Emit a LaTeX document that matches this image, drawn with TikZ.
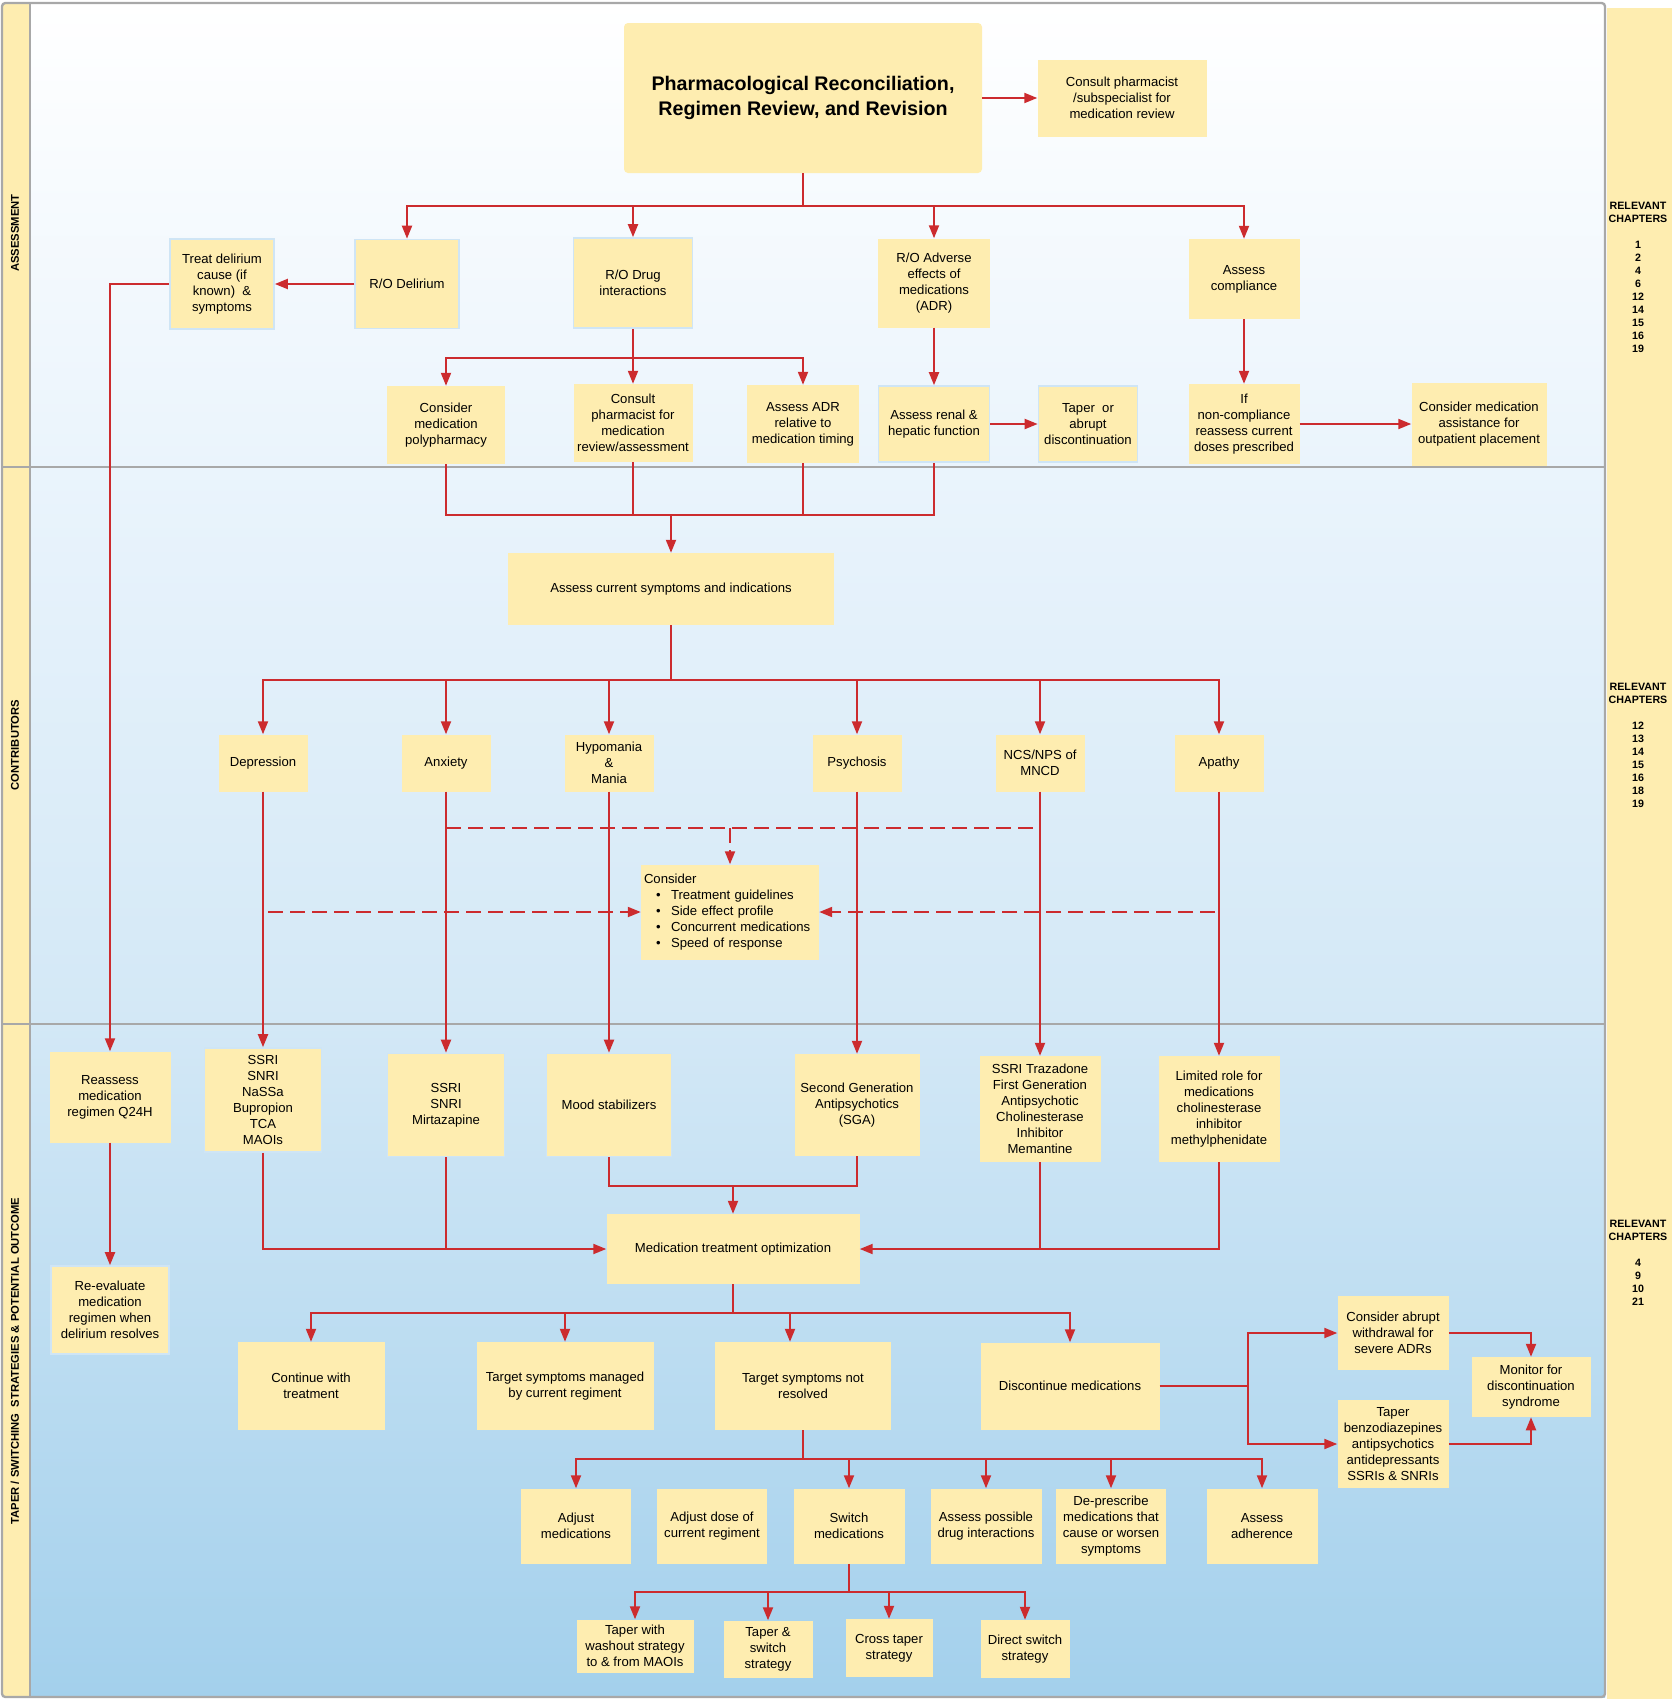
\documentclass[tikz,border=0pt]{standalone}
\usepackage{fontspec}
\setmainfont{Liberation Sans}
\usetikzlibrary{arrows.meta}
\definecolor{boxfill}{HTML}{FEEDB0}
\definecolor{boxline}{HTML}{CFE5F5}
\definecolor{linkred}{HTML}{CC2B2E}
\definecolor{lanegray}{HTML}{A8A8A8}
\definecolor{bgone}{HTML}{EAF4FC}
\definecolor{bgtwo}{HTML}{D3E8F6}
\definecolor{bgthree}{HTML}{A3D0EC}
\newcommand{\consitem}[1]{\makebox[8.1mm][l]{\hspace{3.6mm}\textbullet}#1}
\tikzset{
	box/.style 2 args={fill=boxfill, align=center, inner sep=0pt, font=\fontsize{11.2}{13.7}\selectfont, minimum width=#1*0.3mm, minimum height=#2*0.3mm},
	edgebox/.style 2 args={box={#1}{#2}, draw=boxline, line width=0.5mm},
	wire/.style={draw=linkred, line width=0.6mm},
	link/.style={wire, -{Triangle[length=3.9mm,width=3mm]}},
	dwire/.style={wire, dash pattern=on 4.5mm off 2.1mm},
	dlink/.style={link, dash pattern=on 4.5mm off 2.1mm},
	lane/.style={font=\fontsize{9.6}{11}\selectfont\bfseries, rotate=90},
	chapters/.style={anchor=north, align=center, inner sep=0pt, font=\fontsize{9.1}{11.1}\selectfont\bfseries}
}
\begin{document}
\begin{tikzpicture}[x=0.3mm,y=-0.3mm]
	\useasboundingbox (0,0) rectangle (1672,1699);
	\fill[white] (0,0) rectangle (1672,1699);
	\shade[top color=white, bottom color=bgone] (30,3) rectangle (1605,467);
	\shade[top color=bgone, bottom color=bgtwo] (30,467) rectangle (1605,1024);
	\shade[top color=bgtwo, bottom color=bgthree] (30,1024) rectangle (1605,1697);
	\fill[boxfill] (2,3) rectangle (30,1697);
	\fill[boxfill] (1607,8) rectangle (1672,1699);
	\draw[lanegray, line width=0.7mm, rounded corners=1mm] (2,3) rectangle (1605,1697);
	\draw[lanegray, line width=0.7mm] (30,3) -- (30,1697);
	\draw[lanegray, line width=0.7mm] (2,467) -- (1605,467);
	\draw[lanegray, line width=0.7mm] (2,1024) -- (1605,1024);
	
	\node[lane] (lanea) at (15,233) {ASSESSMENT};
	\node[lane] (laneb) at (15,745) {CONTRIBUTORS};
	\node[lane] (lanec) at (15,1361) {TAPER / SWITCHING~ STRATEGIES \& POTENTIAL OUTCOME};
	\node[chapters] (chapa) at (1638,202) {RELEVANT\\CHAPTERS\\[11.1pt]1\\2\\4\\6\\12\\14\\15\\16\\19};
	\node[chapters] (chapb) at (1638,683) {RELEVANT\\CHAPTERS\\[11.1pt]12\\13\\14\\15\\16\\18\\19};
	\node[chapters] (chapc) at (1638,1220) {RELEVANT\\CHAPTERS\\[11.1pt]4\\9\\10\\21};
	
	\node[box={358}{150}, rounded corners=1.2mm, font=\fontsize{16.8}{20.7}\selectfont\bfseries] (title) at (803,98) {Pharmacological Reconciliation,\\Regimen Review, and Revision};
	\node[box={169}{77}] (consult) at (1122,98) {Consult pharmacist\\/subspecialist for\\medication review};
	\node[edgebox={104}{90}] (treat) at (222,284) {Treat delirium\\cause (if\\known)~ \&\\symptoms};
	\node[edgebox={104}{89}] (rodel) at (407,284) {R/O Delirium};
	\node[edgebox={119}{90}] (rodrug) at (633,283) {R/O Drug\\interactions};
	\node[box={112}{89}] (roadr) at (934,283) {R/O Adverse\\effects of\\medications\\(ADR)};
	\node[box={111}{80}] (compl) at (1244,279) {Assess\\compliance};
	\node[box={118}{78}] (poly) at (446,425) {Consider\\medication\\polypharmacy};
	\node[box={119}{78}] (pharm) at (633,423) {Consult\\pharmacist for\\medication\\review/assessment};
	\node[box={112}{78}] (adrtime) at (803,424) {Assess ADR\\relative to\\medication timing};
	\node[edgebox={111}{76}] (renal) at (934,424) {Assess renal \&\\hepatic function};
	\node[edgebox={99}{76}] (taper) at (1088,424) {Taper~ or\\abrupt\\discontinuation};
	\node[box={111}{80}] (noncomp) at (1244,424) {If\\non-compliance\\reassess current\\doses prescribed};
	\node[box={135}{83}] (assist) at (1479,424) {Consider medication\\assistance for\\outpatient placement};
	
	\node[box={326}{72}] (symptoms) at (671,589) {Assess current symptoms and indications};
	\node[box={89}{57}] (dep) at (263,763) {Depression};
	\node[box={89}{57}] (anx) at (446,763) {Anxiety};
	\node[box={89}{57}] (hypo) at (609,763) {Hypomania\\\&\\Mania};
	\node[box={89}{57}] (psy) at (857,763) {Psychosis};
	\node[box={89}{57}] (ncs) at (1040,763) {NCS/NPS of\\MNCD};
	\node[box={89}{57}] (apathy) at (1219,763) {Apathy};
	\node[box={178}{95}, text width=51.6mm, align=left] (consider) at (730,912) {Consider\\\consitem{Treatment guidelines}\\\consitem{Side effect profile}\\\consitem{Concurrent medications}\\\consitem{Speed of response}};
	
	\node[box={121}{91}] (reassess) at (110,1097) {Reassess\\medication\\regimen Q24H};
	\node[edgebox={117}{104}] (ssri1) at (263,1100) {SSRI\\SNRI\\NaSSa\\Bupropion\\TCA\\MAOIs};
	\node[edgebox={117}{103}] (ssri2) at (446,1105) {SSRI\\SNRI\\Mirtazapine};
	\node[edgebox={125}{103}] (mood) at (609,1105) {Mood stabilizers};
	\node[box={125}{102}] (sga) at (857,1105) {Second Generation\\Antipsychotics\\(SGA)};
	\node[box={121}{106}] (trazo) at (1040,1109) {SSRI Trazadone\\First Generation\\Antipsychotic\\Cholinesterase\\Inhibitor\\Memantine};
	\node[box={121}{106}] (limited) at (1219,1109) {Limited role for\\medications\\cholinesterase\\inhibitor\\methylphenidate};
	\node[edgebox={118}{88}] (reeval) at (110,1310) {Re-evaluate\\medication\\regimen when\\delirium resolves};
	\node[box={253}{70}] (mto) at (733,1249) {Medication treatment optimization};
	\node[box={147}{88}] (cont) at (311,1386) {Continue with\\treatment};
	\node[box={177}{88}] (managed) at (565,1386) {Target symptoms managed\\by current regiment};
	\node[box={176}{88}] (notres) at (803,1386) {Target symptoms not\\resolved};
	\node[box={179}{87}] (discont) at (1070,1386) {Discontinue medications};
	\node[box={111}{74}] (abrupt) at (1393,1333) {Consider abrupt\\withdrawal for\\severe ADRs};
	\node[box={111}{88}] (taperb) at (1393,1444) {Taper\\benzodiazepines\\antipsychotics\\antidepressants\\SSRIs \& SNRIs};
	\node[box={119}{60}] (monitor) at (1531,1387) {Monitor for\\discontinuation\\syndrome};
	\node[box={110}{75}] (adjmed) at (576,1526) {Adjust\\medications};
	\node[box={110}{75}] (adjdose) at (712,1526) {Adjust dose of\\current regiment};
	\node[box={111}{75}] (switch) at (849,1526) {Switch\\medications};
	\node[box={111}{75}] (drugint) at (986,1526) {Assess possible\\drug interactions};
	\node[box={110}{75}] (depresc) at (1111,1526) {De-prescribe\\medications that\\cause or worsen\\symptoms};
	\node[box={111}{75}] (adher) at (1262,1526) {Assess\\adherence};
	\node[box={117}{53}] (washout) at (635,1646) {Taper with\\washout strategy\\to \& from MAOIs};
	\node[box={89}{57}] (tswitch) at (768,1649) {Taper \&\\switch\\strategy};
	\node[box={87}{58}] (cross) at (889,1648) {Cross taper\\strategy};
	\node[box={89}{58}] (direct) at (1025,1649) {Direct switch\\strategy};
	
	\coordinate (b1) at (803,206);
	\coordinate (b2) at (633,358);
	\coordinate (m1) at (671,515);
	\coordinate (b3) at (671,680);
	\coordinate (d1) at (730,828);
	\coordinate (d2) at (730,912);
	\coordinate (m2) at (733,1186);
	\coordinate (b4) at (733,1313);
	\coordinate (b5) at (1248,1386);
	\coordinate (b6) at (803,1459);
	\coordinate (b7) at (849,1592);
	
	\draw[link] (title) -- (consult);
	\draw[wire] (title.south) -- (b1);
	\foreach \n in {rodel,rodrug,roadr,compl}
		\draw[link] (b1) -| (\n.north);
	\draw[link] (rodel) -- (treat);
	\draw[link] (treat.west) -| (reassess.north);
	\draw[link] (reassess) -- (reeval);
	\draw[link] (rodrug) -- (pharm);
	\draw[link] (b2) -| (poly.north);
	\draw[link] (b2) -| (adrtime.north);
	\draw[link] (roadr) -- (renal);
	\draw[link] (renal) -- (taper);
	\draw[link] (compl) -- (noncomp);
	\draw[link] (noncomp) -- (assist);
	\draw[wire] (poly.south) |- (m1) -| (renal.south);
	\draw[wire] (pharm.south) -- (pharm.south |- m1);
	\draw[wire] (adrtime.south) -- (adrtime.south |- m1);
	\draw[link] (m1) -- (symptoms.north);
	
	\draw[wire] (symptoms.south) -- (b3);
	\foreach \n in {dep,anx,hypo,psy,ncs,apathy}
		\draw[link] (b3) -| (\n.north);
	\draw[dwire] (anx.south |- d1) -- (ncs.south |- d1);
	\draw[dlink] (d1) -- (consider.north);
	\draw[dlink] ([xshift=1.5mm]dep.south |- d2) -- (consider.west);
	\draw[dlink] ([xshift=-1.2mm]apathy.south |- d2) -- (consider.east);
	\draw[link] (dep) -- (ssri1);
	\draw[link] (anx) -- (ssri2);
	\draw[link] (hypo) -- (mood);
	\draw[link] (psy) -- (sga);
	\draw[link] (ncs) -- (trazo);
	\draw[link] (apathy) -- (limited);
	
	\draw[wire] (mood.south) |- (m2) -| (sga.south);
	\draw[link] (m2) -- (mto.north);
	\draw[link] (ssri1.south) |- (mto.west);
	\draw[wire] (ssri2.south) -- (ssri2.south |- mto.west);
	\draw[link] (limited.south) |- (mto.east);
	\draw[wire] (trazo.south) -- (trazo.south |- mto.east);
	\draw[wire] (mto.south) -- (b4);
	\draw[link] (b4) -| (cont.north);
	\draw[link] (b4) -| (managed.north);
	\draw[link] (b4) -| ([xshift=-3.9mm]notres.north);
	\draw[link] (b4) -| (discont.north);
	\draw[wire] (discont.east) -- (b5);
	\draw[link] (b5) |- (abrupt.west);
	\draw[link] (b5) |- (taperb.west);
	\draw[link] (abrupt.east) -| (monitor.north);
	\draw[link] (taperb.east) -| (monitor.south);
	\draw[wire] (notres.south) -- (b6);
	\foreach \n in {adjmed,switch,drugint,depresc,adher}
		\draw[link] (b6) -| (\n.north);
	\draw[wire] (switch.south) -- (b7);
	\foreach \n in {washout,tswitch,cross,direct}
		\draw[link] (b7) -| (\n.north);
\end{tikzpicture}
\end{document}
